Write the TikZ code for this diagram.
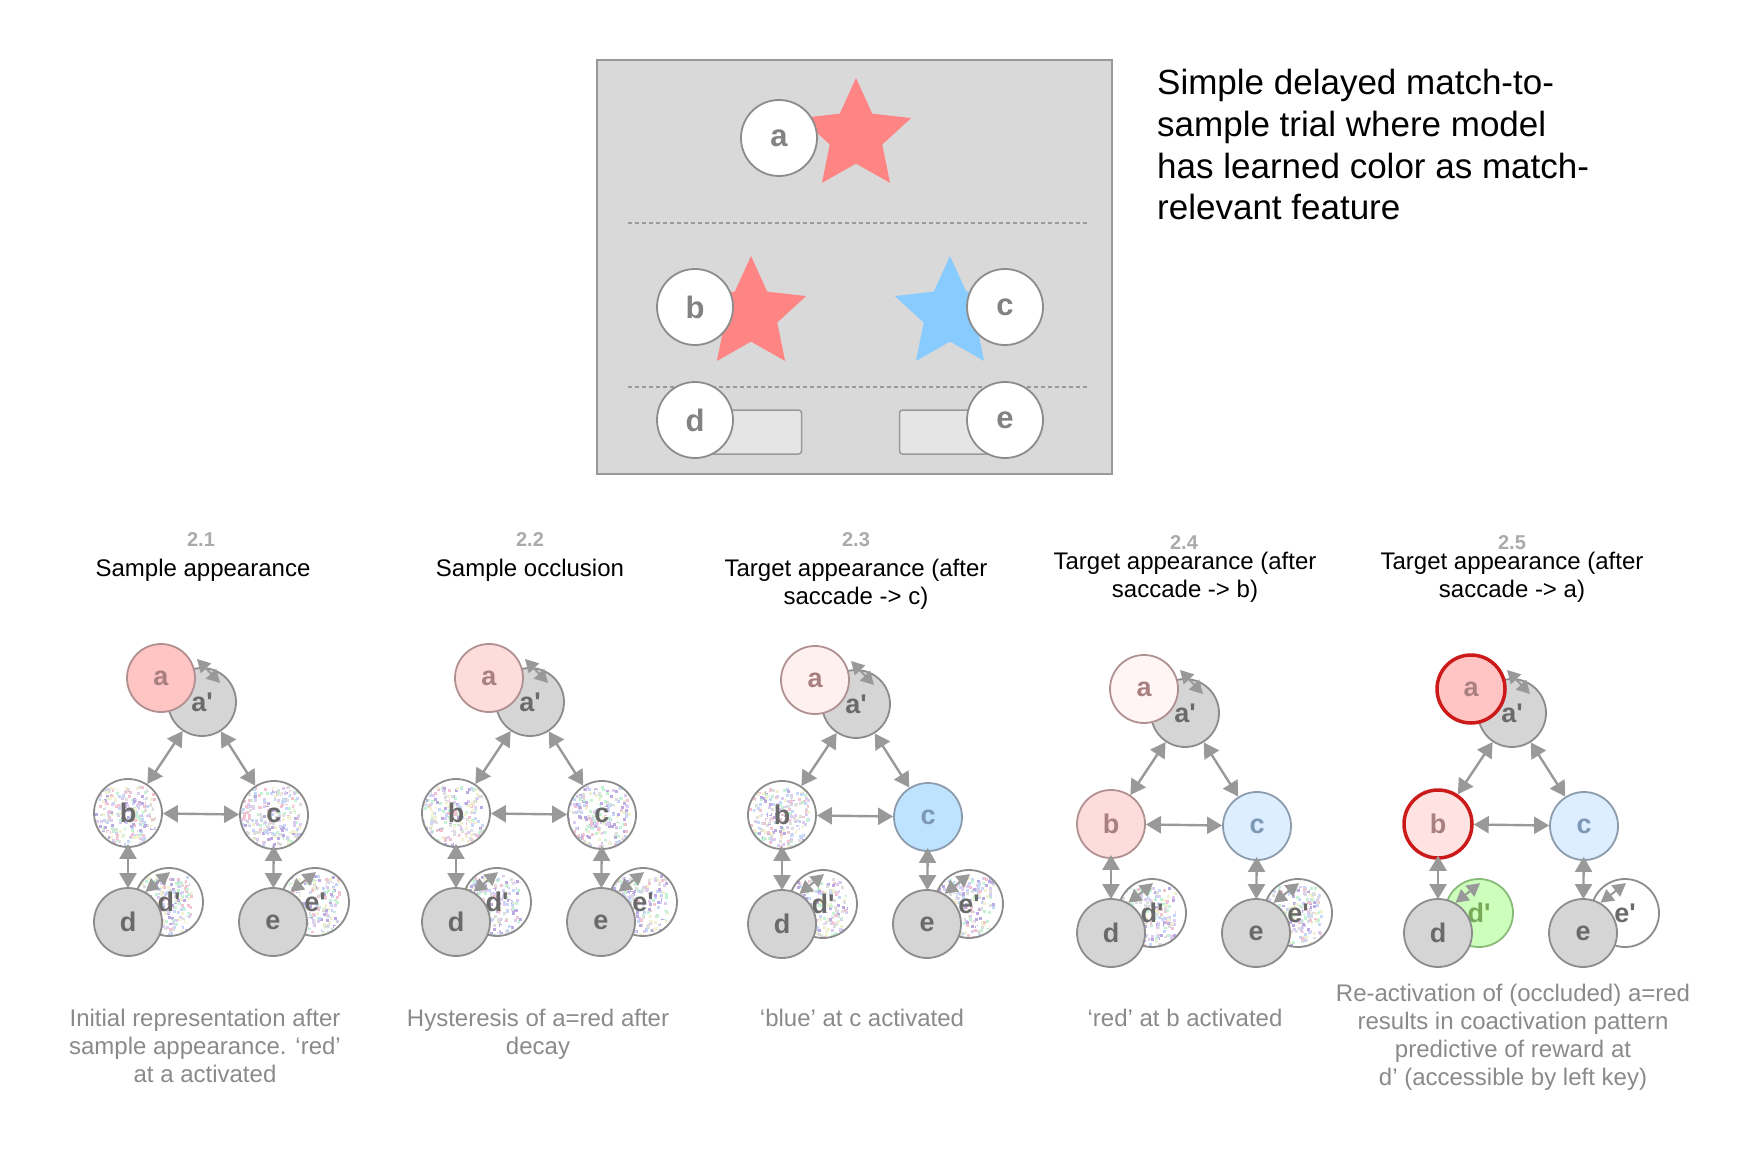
\documentclass[tikz,border=0pt]{standalone}
\usepackage{fontspec}
\setmainfont{Liberation Sans}
\usetikzlibrary{shapes.geometric, arrows.meta, positioning}

\definecolor{boxgray}{HTML}{D9D9D9}
\definecolor{edgegray}{HTML}{8C8C8C}
\definecolor{unitgray}{HTML}{D5D5D5}
\definecolor{linkgray}{HTML}{999999}
\definecolor{labelgray}{HTML}{6A6A6A}
\definecolor{slotlabel}{HTML}{828282}
\definecolor{keygray}{HTML}{E5E5E5}
\definecolor{textgray}{HTML}{8A8A8A}
\definecolor{numgray}{HTML}{AAAAAA}
\definecolor{starred}{HTML}{FF8585}
\definecolor{starblue}{HTML}{88CCFF}
\definecolor{roseA}{HTML}{FFC4C4}
\definecolor{roseB}{HTML}{FFDCDC}
\definecolor{roseC}{HTML}{FFF0F0}
\definecolor{roseD}{HTML}{FFF5F5}
\definecolor{roseE}{HTML}{FFE2E2}
\definecolor{roseedge}{HTML}{B09090}
\definecolor{roselabel}{HTML}{A88080}
\definecolor{skyA}{HTML}{BDE3FF}
\definecolor{skyB}{HTML}{DCEEFF}
\definecolor{skyedge}{HTML}{8C9CAC}
\definecolor{skylabel}{HTML}{7C98B4}
\definecolor{cuered}{HTML}{CC1A1A}
\definecolor{rewardgreen}{HTML}{CCFFBB}
\definecolor{rewardedge}{HTML}{88BB77}
\definecolor{rewardlabel}{HTML}{78A858}
\definecolor{nzpink}{HTML}{F2C4D2}
\definecolor{nzgreen}{HTML}{C4F2D4}
\definecolor{nzblue}{HTML}{C8D6F8}
\definecolor{nzlilac}{HTML}{DCCCF2}
\definecolor{nzgray}{HTML}{DEDEDE}
\definecolor{nzyellow}{HTML}{F2F2D2}
\definecolor{nzplum}{HTML}{BCAAE2}

\pgfmathdeclarerandomlist{noise}{{nzpink}{nzgreen}{nzblue}{nzlilac}{nzgray}{nzyellow}{nzplum}{white}{white}}
\pgfmathsetseed{7}

\tikzset{
  unit/.style={circle, draw=edgegray, line width=1.8pt, fill=unitgray, minimum size=68pt, inner sep=0pt, text=labelgray, font=\bfseries\fontsize{27}{27}\selectfont},
  noisy/.style={fill=white, path picture={
      \begin{scope}[shift={(path picture bounding box.center)}]
        \foreach \k in {1,...,420}{
          \pgfmathrandomitem{\nz}{noise}
          \fill[\nz] (35*rand-1.5, 35*rand-1.5) rectangle +(3,3);
        }
      \end{scope}}},
  rose/.style={fill=#1, draw=roseedge, text=roselabel},
  sky/.style={fill=#1, draw=skyedge, text=skylabel},
  cued/.style={draw=cuered, line width=3.5pt},
  reward/.style={fill=rewardgreen, draw=rewardedge, text=rewardlabel},
  blank/.style={fill=white},
  link/.style={draw=linkgray, line width=2.4pt, {Triangle[length=15pt,width=17pt]}-{Triangle[length=15pt,width=17pt]}},
  uplink/.style={link, shorten <=-4pt, shorten >=-1pt},
  selflink/.style={draw=linkgray, line width=2pt, {Triangle[length=13pt,width=14pt]}-{Triangle[length=13pt,width=14pt]}},
  slot/.style={circle, draw=edgegray, line width=1.8pt, fill=white, minimum size=76pt, inner sep=0pt, text=slotlabel, font=\bfseries\fontsize{31}{31}\selectfont},
  keybox/.style={draw=linkgray, line width=1.5pt, fill=keygray, rounded corners=3pt, minimum width=119pt, minimum height=44pt, inner sep=0pt},
  stim/.style={star, star points=5, star point ratio=2.1, inner sep=0pt, minimum size=116pt},
  num/.style={anchor=base, text=numgray, font=\bfseries\fontsize{20}{24}\selectfont},
  head/.style={anchor=base, align=center, font=\fontsize{24}{28}\selectfont},
  note/.style={anchor=base, align=center, text=textgray, font=\fontsize{24}{28}\selectfont},
}

% one network panel: prefix, shift, styles of a, b, c, d', e'
\newcommand{\netpanel}[7]{%
  \begin{scope}[shift={#2}]
    \node[unit] (#1ap) at (202,702) {a\textquotesingle};
    \draw[selflink] ([shift={(-5,-43)}]#1ap.center) -- ([shift={(18,-19)}]#1ap.center);
    \node[unit, #3] (#1a) at (161,678) {a};
    \node[unit, #4] (#1b) at (128,813) {b};
    \node[unit, #5] (#1c) at (274,815) {c};
    \node[unit, #6] (#1dp) at (169,902) {d\textquotesingle};
    \node[unit] (#1d) at (128,922) {d};
    \node[unit, #7] (#1ep) at (315,902) {e\textquotesingle};
    \node[unit] (#1e) at (273,922) {e};
    \draw[link] (#1ap) -- (#1b);
    \draw[link] (#1ap) -- (#1c);
    \draw[link] (#1b) -- (#1c);
    \draw[uplink] (#1b) -- (#1d);
    \draw[uplink] (#1c) -- (#1e);
    \draw[selflink] (#1d.60) -- ([shift={(1,5)}]#1dp.north);
    \draw[selflink] (#1e.60) -- ([shift={(1,5)}]#1ep.north);
  \end{scope}}

\begin{document}
\begin{tikzpicture}[x=1pt, y=-1pt]
  \useasboundingbox (0,0) rectangle (1756,1150);

  % trial display
  \node[draw=linkgray, line width=1.8pt, fill=boxgray, minimum width=515pt, minimum height=414pt, inner sep=0pt] (trial) at (854.5,267) {};
  \draw[linkgray, line width=1.2pt, dash pattern=on 4pt off 3pt] (628,223) -- (1089,223);
  \draw[linkgray, line width=1.2pt, dash pattern=on 4pt off 3pt] (628,387) -- (1089,387);
  \node[stim, fill=starred] (samplestar) at (856,136) {};
  \node[slot] (sa) at (779,138) {a};
  \node[stim, fill=starred] (redstar) at (751,314) {};
  \node[stim, fill=starblue] (bluestar) at (950,314) {};
  \node[slot] (sb) at (695,307) {b};
  \node[slot] (sc) at (1005,307) {c};
  \node[keybox] (leftkey) at (742,432) {};
  \node[keybox] (rightkey) at (959,432) {};
  \node[slot] (sd) at (695,420) {d};
  \node[slot] (se) at (1005,420) {e};

  \node[anchor=north west, align=left, inner sep=0pt, font=\fontsize{35}{41.8}\selectfont] (summary) at (1157,69)
    {Simple delayed match-to-\\sample trial where model\\has learned color as match-\\relevant feature};

  % network panels
  \netpanel{p1}{(0,0)}{rose=roseA}{noisy}{noisy}{noisy}{noisy}
  \netpanel{p2}{(328,0)}{rose=roseB}{noisy}{noisy}{noisy}{noisy}
  \netpanel{p3}{(654,2)}{rose=roseC}{noisy}{sky=skyA}{noisy}{noisy}
  \netpanel{p4}{(983,11)}{rose=roseD}{rose=roseB}{sky=skyB}{noisy}{noisy}
  \netpanel{p5}{(1310,11)}{rose=roseA, cued}{rose=roseE, cued}{sky=skyB}{reward}{blank}

  % headings (base = last line)
  \node[num] (n1) at (201,546) {2.1};
  \node[num] (n2) at (530,546) {2.2};
  \node[num] (n3) at (856,546) {2.3};
  \node[num] (n4) at (1184,549) {2.4};
  \node[num] (n5) at (1512,549) {2.5};
  \node[head] (h1) at (203,576) {Sample appearance};
  \node[head] (h2) at (530,576) {Sample occlusion};
  \node[head] (h3) at (856,604) {Target appearance (after\\saccade -> c)};
  \node[head] (h4) at (1185,597) {Target appearance (after\\saccade -> b)};
  \node[head] (h5) at (1512,597) {Target appearance (after\\saccade -> a)};

  % captions
  \node[note] (c1) at (205,1082) {Initial representation after\\sample appearance. ‘red’\\at a activated};
  \node[note] (c2) at (538,1054) {Hysteresis of a=red after\\decay};
  \node[note] (c3) at (862,1026) {‘blue’ at c activated};
  \node[note] (c4) at (1185,1026) {‘red’ at b activated};
  \node[note] (c5) at (1513,1085) {Re-activation of (occluded) a=red\\results in coactivation pattern\\predictive of reward at\\d’ (accessible by left key)};
\end{tikzpicture}
\end{document}
